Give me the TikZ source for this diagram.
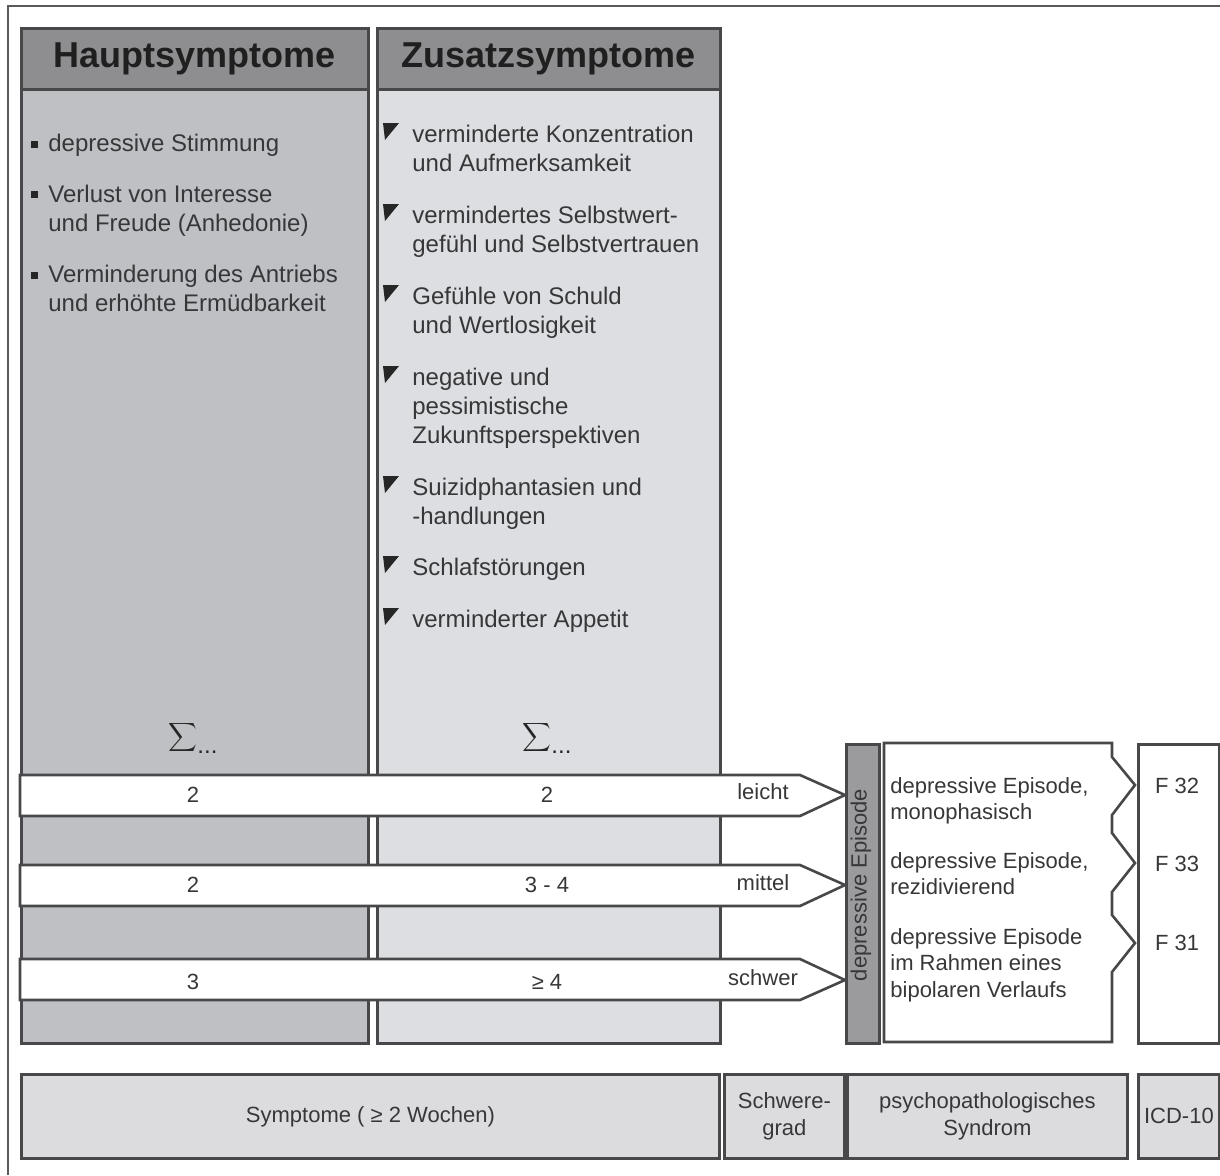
\documentclass[tikz,border=0pt]{standalone}
\usepackage{fontspec}
\setmainfont{Liberation Sans}
\usetikzlibrary{positioning}
\usetikzlibrary{calc}

\definecolor{kopfgrau}{RGB}{142,142,145}
\definecolor{hauptgrau}{RGB}{190,192,196}
\definecolor{zusatzgrau}{RGB}{221,222,225}
\definecolor{balkengrau}{RGB}{155,155,158}
\definecolor{fussgrau}{RGB}{220,220,222}
\definecolor{linie}{RGB}{72,72,74}
\definecolor{schrift}{RGB}{55,55,57}

\tikzset{
  kasten/.style={draw=linie,line width=1.4pt,inner sep=0pt,anchor=north west},
  kopf/.style={kasten,fill=kopfgrau,font=\fontsize{18}{20}\selectfont\bfseries,text=black!88},
  liste/.style={anchor=north west,inner sep=0pt,align=left,font=\fontsize{12}{14.5}\selectfont,text=schrift},
  band/.style={draw=linie,line width=1.3pt,fill=white},
  zahl/.style={inner sep=0pt,font=\fontsize{11}{13}\selectfont,text=schrift},
  episode/.style={anchor=north west,inner sep=0pt,align=left,font=\fontsize{11}{13.25}\selectfont,text=schrift},
  fuss/.style={kasten,fill=fussgrau,align=center,minimum height=42pt,font=\fontsize{11}{13.5}\selectfont,text=schrift},
  summe/.style={inner sep=0pt,font=\fontsize{12}{14}\selectfont,text=black!85}
}

\begin{document}
\begin{tikzpicture}[x=0.5pt,y=-0.5pt]
\useasboundingbox (0,0) rectangle (1220,1175);
\draw[linie!90,line width=1pt] (8,1175) -- (8,6) -- (1220,6);

% Spalten
\node[kasten,fill=hauptgrau,minimum width=173.5pt,minimum height=507.5pt](haupt) at (20,27){};
\node[kasten,fill=zusatzgrau,minimum width=171.5pt,minimum height=507.5pt](zusatz) at (376,27){};
\node[kopf,minimum width=173.5pt,minimum height=30.5pt](hkopf) at (20,27){Hauptsymptome};
\node[kopf,minimum width=171.5pt,minimum height=30.5pt](zkopf) at (376,27){Zusatzsymptome};

% Hauptsymptome
\foreach \y in {144,194,275}
  \fill[black!85] (31,{\y-3.5}) rectangle (38,{\y+3.5});
\node[liste](h1) at (48,134){depressive Stimmung};
\node[liste](h2) at (48,185){Verlust von Interesse\\und Freude (Anhedonie)};
\node[liste](h3) at (48,265){Verminderung des Antriebs\\und erhöhte Ermüdbarkeit};

% Zusatzsymptome
\foreach \y in {133,214,295,376,486,566,618}
  \fill[black!85] (383,{\y-10}) -- (399,{\y-10}) -- (385,{\y+7}) -- cycle;
\node[liste](z1) at (412,125){verminderte Konzentration\\und Aufmerksamkeit};
\node[liste](z2) at (412,206){vermindertes Selbstwert-\\gefühl und Selbstvertrauen};
\node[liste](z3) at (412,287){Gefühle von Schuld\\und Wertlosigkeit};
\node[liste](z4) at (412,368){negative und\\pessimistische\\Zukunftsperspektiven};
\node[liste](z5) at (412,478){Suizidphantasien und\\-handlungen};
\node[liste](z6) at (412,558){Schlafstörungen};
\node[liste](z7) at (412,610){verminderter Appetit};

\node[summe](hsum) at (193,737){$\displaystyle\sum$\raisebox{-5pt}{...}};
\node[summe](zsum) at (547,737){$\displaystyle\sum$\raisebox{-5pt}{...}};

% Episode
\node[kasten,fill=balkengrau,minimum width=16.5pt,minimum height=149.5pt](bar) at (845,743){};
\node[zahl,rotate=90](bartext) at (861,885){depressive Episode};
\draw[draw=linie,line width=1.3pt,fill=white] (884,743) -- (1112,743) -- (1112,757) -- (1135,785)
  -- (1112,815) -- (1112,833) -- (1135,863) -- (1112,892) -- (1112,915) -- (1135,943)
  -- (1112,972) -- (1112,1042) -- (884,1042) -- cycle;
\node[episode](e1) at (890,777){depressive Episode,\\monophasisch};
\node[episode](e2) at (890,852){depressive Episode,\\rezidivierend};
\node[episode](e3) at (890,928){depressive Episode\\im Rahmen eines\\bipolaren Verlaufs};

\node[kasten,fill=white,minimum width=40.5pt,minimum height=149.5pt](icd) at (1137,743){};
\node[zahl](f32) at (1177,786){F 32};
\node[zahl](f33) at (1177,864){F 33};
\node[zahl](f31) at (1177,943){F 31};

% Baender
\coordinate(spitzeA) at (bar.west |- 0,795);
\coordinate(spitzeB) at (bar.west |- 0,885);
\coordinate(spitzeC) at (bar.west |- 0,980);
\draw[band] (20,775) -- (800,775) -- (spitzeA) -- (800,816) -- (20,816) -- cycle;
\draw[band] (20,865) -- (800,865) -- (spitzeB) -- (800,906) -- (20,906) -- cycle;
\draw[band] (20,959) -- (800,959) -- (spitzeC) -- (800,1000) -- (20,1000) -- cycle;

\node[zahl](a1) at (193,795){2};
\node[zahl](a2) at (547,795){2};
\node[zahl](a3) at (763,792){leicht};
\node[zahl](b1) at (193,885){2};
\node[zahl](b2) at (547,885){3 - 4};
\node[zahl](b3) at (763,883){mittel};
\node[zahl](c1) at (193,982){3};
\node[zahl](c2) at (547,982){≥ 4};
\node[zahl](c3) at (763,978){schwer};

% Fusszeile
\node[fuss,minimum width=349pt](symptome) at (20,1073){Symptome ( ≥ 2 Wochen)};
\node[fuss,minimum width=60pt](grad) at (723,1073){Schwere-\\grad};
\node[fuss,minimum width=140pt](syndrom) at (846,1073){psychopathologisches\\Syndrom};
\node[fuss,minimum width=40.5pt](icdfuss) at (1137,1073){ICD-10};
\end{tikzpicture}
\end{document}
